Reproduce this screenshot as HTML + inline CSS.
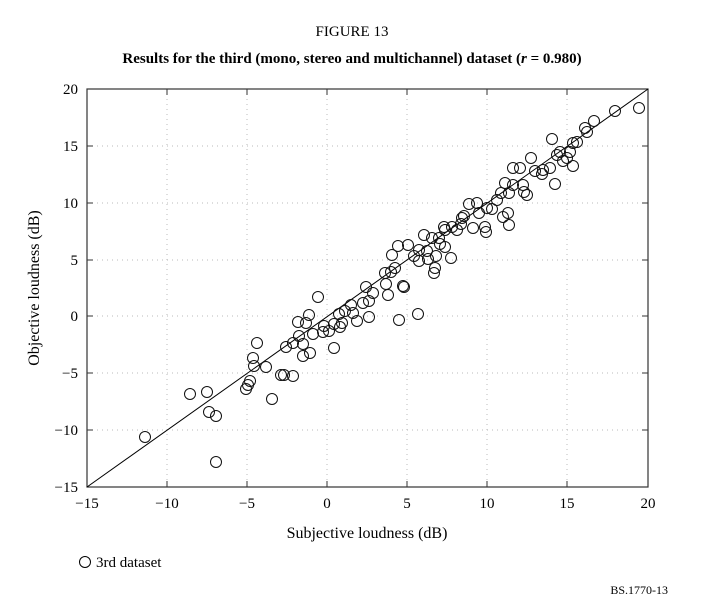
<!DOCTYPE html><html><head><style>body{margin:0;background:#fff;width:705px;height:610px;overflow:hidden}</style></head><body>
<svg width="705" height="610" xmlns="http://www.w3.org/2000/svg" font-family="Liberation Serif, serif">
<text x="352" y="36" text-anchor="middle" font-size="15">FIGURE 13</text>
<text x="352" y="63" text-anchor="middle" font-size="15" font-weight="bold">Results for the third (mono, stereo and multichannel) dataset (<tspan font-style="italic">r</tspan> = 0.980)</text>
<g stroke="#bbb" stroke-dasharray="1,4" stroke-width="1">
<line x1="167" y1="89" x2="167" y2="487"/><line x1="247" y1="89" x2="247" y2="487"/><line x1="327" y1="89" x2="327" y2="487"/><line x1="407" y1="89" x2="407" y2="487"/><line x1="487" y1="89" x2="487" y2="487"/><line x1="567" y1="89" x2="567" y2="487"/>
<line x1="87" y1="146" x2="648" y2="146"/><line x1="87" y1="203" x2="648" y2="203"/><line x1="87" y1="260" x2="648" y2="260"/><line x1="87" y1="316" x2="648" y2="316"/><line x1="87" y1="373" x2="648" y2="373"/><line x1="87" y1="430" x2="648" y2="430"/>
</g>
<rect x="87" y="89" width="561" height="398" fill="none" stroke="#333" stroke-width="1.2"/>
<g stroke="#333">
<path d="M167 487v-6M247 487v-6M327 487v-6M407 487v-6M487 487v-6M567 487v-6M167 89v6M247 89v6M327 89v6M407 89v6M487 89v6M567 89v6"/>
<path d="M87 146h6M87 203h6M87 260h6M87 316h6M87 373h6M87 430h6M648 146h-6M648 203h-6M648 260h-6M648 316h-6M648 373h-6M648 430h-6"/>
</g>
<line x1="87" y1="487" x2="648" y2="89" stroke="#000" stroke-width="1"/>
<g font-size="15" text-anchor="middle">
<text x="87" y="508">−15</text><text x="167" y="508">−10</text><text x="247" y="508">−5</text><text x="327" y="508">0</text><text x="407" y="508">5</text><text x="487" y="508">10</text><text x="567" y="508">15</text><text x="648" y="508">20</text>
</g>
<g font-size="15" text-anchor="end">
<text x="78" y="94">20</text><text x="78" y="151">15</text><text x="78" y="208">10</text><text x="78" y="265">5</text><text x="78" y="321">0</text><text x="78" y="378">−5</text><text x="78" y="435">−10</text><text x="78" y="492">−15</text>
</g>
<text x="367" y="538" text-anchor="middle" font-size="16">Subjective loudness (dB)</text>
<text transform="translate(39,288) rotate(-90)" text-anchor="middle" font-size="16">Objective loudness (dB)</text>
<g fill="none" stroke="#000" stroke-width="1">
<circle cx="85" cy="562" r="5.5"/>
</g>
<text x="96" y="567" font-size="15">3rd dataset</text>
<text x="668" y="594" text-anchor="end" font-size="12">BS.1770-13</text>
<g fill="none" stroke="#111" stroke-width="1">
<circle cx="145" cy="437" r="5.5"/><circle cx="216" cy="462" r="5.5"/><circle cx="190" cy="394" r="5.5"/><circle cx="207" cy="392" r="5.5"/><circle cx="209" cy="412" r="5.5"/><circle cx="216" cy="416" r="5.5"/><circle cx="246" cy="389" r="5.5"/><circle cx="248" cy="385" r="5.5"/><circle cx="250" cy="381" r="5.5"/><circle cx="254" cy="366" r="5.5"/><circle cx="253" cy="358" r="5.5"/><circle cx="257" cy="343" r="5.5"/><circle cx="266" cy="367" r="5.5"/><circle cx="272" cy="399" r="5.5"/><circle cx="281" cy="375" r="5.5"/><circle cx="284" cy="375" r="5.5"/><circle cx="293" cy="376" r="5.5"/><circle cx="286" cy="347" r="5.5"/><circle cx="293" cy="343" r="5.5"/><circle cx="299" cy="336" r="5.5"/><circle cx="303" cy="344" r="5.5"/><circle cx="303" cy="356" r="5.5"/><circle cx="310" cy="353" r="5.5"/><circle cx="298" cy="322" r="5.5"/><circle cx="306" cy="323" r="5.5"/><circle cx="309" cy="315" r="5.5"/><circle cx="318" cy="297" r="5.5"/><circle cx="313" cy="334" r="5.5"/><circle cx="323" cy="332" r="5.5"/><circle cx="329" cy="331" r="5.5"/><circle cx="324" cy="326" r="5.5"/><circle cx="334" cy="348" r="5.5"/><circle cx="334" cy="324" r="5.5"/><circle cx="340" cy="327" r="5.5"/><circle cx="342" cy="323" r="5.5"/><circle cx="339" cy="314" r="5.5"/><circle cx="345" cy="311" r="5.5"/><circle cx="351" cy="305" r="5.5"/><circle cx="353" cy="313" r="5.5"/><circle cx="357" cy="321" r="5.5"/><circle cx="363" cy="303" r="5.5"/><circle cx="369" cy="317" r="5.5"/><circle cx="369" cy="301" r="5.5"/><circle cx="366" cy="287" r="5.5"/><circle cx="373" cy="293" r="5.5"/><circle cx="386" cy="284" r="5.5"/><circle cx="388" cy="295" r="5.5"/><circle cx="399" cy="320" r="5.5"/><circle cx="404" cy="287" r="5.5"/>
<circle cx="385" cy="273" r="5.5"/><circle cx="391" cy="272" r="5.5"/><circle cx="395" cy="268" r="5.5"/><circle cx="403" cy="286" r="5.5"/><circle cx="418" cy="314" r="5.5"/><circle cx="392" cy="255" r="5.5"/><circle cx="398" cy="246" r="5.5"/><circle cx="408" cy="245" r="5.5"/><circle cx="414" cy="256" r="5.5"/><circle cx="419" cy="250" r="5.5"/><circle cx="419" cy="261" r="5.5"/><circle cx="427" cy="251" r="5.5"/><circle cx="428" cy="259" r="5.5"/><circle cx="436" cy="256" r="5.5"/><circle cx="435" cy="268" r="5.5"/><circle cx="434" cy="273" r="5.5"/><circle cx="424" cy="235" r="5.5"/><circle cx="432" cy="238" r="5.5"/><circle cx="439" cy="238" r="5.5"/><circle cx="440" cy="244" r="5.5"/><circle cx="445" cy="247" r="5.5"/><circle cx="451" cy="258" r="5.5"/><circle cx="444" cy="227" r="5.5"/><circle cx="445" cy="230" r="5.5"/><circle cx="452" cy="227" r="5.5"/><circle cx="457" cy="230" r="5.5"/><circle cx="462" cy="218" r="5.5"/><circle cx="464" cy="216" r="5.5"/><circle cx="461" cy="224" r="5.5"/><circle cx="473" cy="228" r="5.5"/><circle cx="469" cy="204" r="5.5"/><circle cx="477" cy="203" r="5.5"/><circle cx="479" cy="213" r="5.5"/><circle cx="487" cy="208" r="5.5"/><circle cx="492" cy="209" r="5.5"/><circle cx="485" cy="227" r="5.5"/><circle cx="486" cy="232" r="5.5"/><circle cx="497" cy="200" r="5.5"/><circle cx="503" cy="217" r="5.5"/><circle cx="508" cy="213" r="5.5"/><circle cx="509" cy="225" r="5.5"/><circle cx="501" cy="193" r="5.5"/><circle cx="505" cy="183" r="5.5"/><circle cx="509" cy="193" r="5.5"/><circle cx="513" cy="185" r="5.5"/><circle cx="523" cy="185" r="5.5"/><circle cx="524" cy="192" r="5.5"/><circle cx="527" cy="195" r="5.5"/><circle cx="513" cy="168" r="5.5"/><circle cx="520" cy="168" r="5.5"/><circle cx="531" cy="158" r="5.5"/><circle cx="535" cy="171" r="5.5"/><circle cx="542" cy="174" r="5.5"/><circle cx="543" cy="170" r="5.5"/><circle cx="550" cy="168" r="5.5"/><circle cx="555" cy="184" r="5.5"/><circle cx="552" cy="139" r="5.5"/><circle cx="557" cy="155" r="5.5"/><circle cx="560" cy="152" r="5.5"/><circle cx="563" cy="161" r="5.5"/><circle cx="567" cy="158" r="5.5"/><circle cx="570" cy="152" r="5.5"/><circle cx="573" cy="166" r="5.5"/><circle cx="573" cy="143" r="5.5"/><circle cx="577" cy="142" r="5.5"/><circle cx="585" cy="128" r="5.5"/><circle cx="587" cy="132" r="5.5"/><circle cx="594" cy="121" r="5.5"/><circle cx="615" cy="111" r="5.5"/><circle cx="639" cy="108" r="5.5"/>
</g>
</svg>
</body></html>
